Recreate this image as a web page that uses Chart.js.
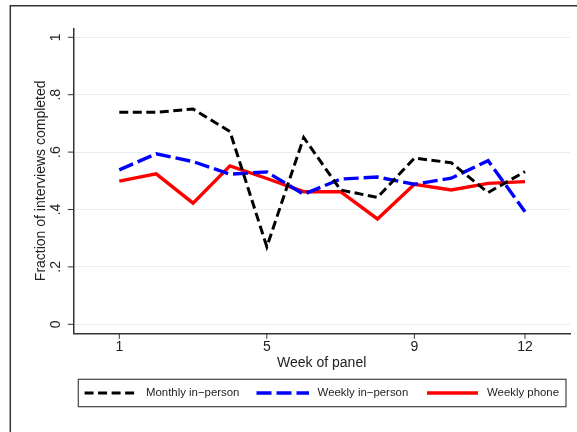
<!DOCTYPE html>
<html>
<head>
<meta charset="utf-8">
<script src="https://cdn.jsdelivr.net/npm/chart.js@4/dist/chart.umd.min.js"></script>
<style>
  html, body { margin: 0; padding: 0; background: #fff; }
  #wrap { width: 577px; height: 432px; position: relative; }
</style>
</head>
<body>
<div id="wrap"><canvas id="chart" width="577" height="432"></canvas></div>
<script>
// -------------------------
// Data
// -------------------------
const weeks = [1, 2, 3, 4, 5, 6, 7, 8, 9, 10, 11, 12];
const monthlyInPerson = [0.739, 0.739, 0.750, 0.672, 0.270, 0.651, 0.468, 0.442, 0.579, 0.563, 0.459, 0.532];
const weeklyInPerson = [0.538, 0.594, 0.567, 0.523, 0.531, 0.453, 0.506, 0.513, 0.488, 0.509, 0.570, 0.392];
const weeklyPhone = [0.499, 0.524, 0.422, 0.552, 0.508, 0.462, 0.462, 0.367, 0.488, 0.468, 0.491, 0.497];
const seriesLabels = ["Monthly in\u2212person", "Weekly in\u2212person", "Weekly phone"];
const xTicks = [1, 5, 9, 12];
const yTicks = [0, 0.2, 0.4, 0.6, 0.8, 1];
const yTickLabels = ["0", ".2", ".4", ".6", ".8", "1"];
const xTitle = "Week of panel";
const yTitle = "Fraction of interviews completed";

const FONT = '"Liberation Sans", Arial, Helvetica, sans-serif';
const INK = "#222";
const AXIS = "#333";

function toPoints(values) {
  return weeks.map((w, i) => ({ x: w, y: values[i] }));
}

// -------------------------
// Stata-like decorations (frame, ticks, titles, legend)
// -------------------------
const stataDecor = {
  id: "stataDecor",
  beforeDraw(chart) {
    const ctx = chart.ctx;
    ctx.save();
    ctx.fillStyle = "#fff";
    ctx.fillRect(0, 0, chart.width, chart.height);
    // outer frame (left + top only, rest is cropped)
    ctx.strokeStyle = AXIS;
    ctx.lineWidth = 1.5;
    ctx.beginPath();
    ctx.moveTo(10.3, chart.height);
    ctx.lineTo(10.3, 5.7);
    ctx.lineTo(chart.width, 5.7);
    ctx.stroke();
    ctx.restore();
  },
  afterDraw(chart) {
    const ctx = chart.ctx;
    const area = chart.chartArea;
    const xs = chart.scales.x;
    const ys = chart.scales.y;
    ctx.save();
    ctx.strokeStyle = AXIS;
    ctx.fillStyle = INK;
    ctx.lineWidth = 1;

    // y ticks + rotated labels
    ctx.font = "14px " + FONT;
    ctx.textAlign = "center";
    ctx.textBaseline = "middle";
    yTicks.forEach((v, i) => {
      const py = ys.getPixelForValue(v);
      ctx.beginPath();
      ctx.moveTo(area.left - 5.5, py);
      ctx.lineTo(area.left, py);
      ctx.stroke();
      ctx.save();
      ctx.translate(area.left - 17.5, py);
      ctx.rotate(-Math.PI / 2);
      ctx.fillText(yTickLabels[i], 0, 0);
      ctx.restore();
    });

    // x ticks + labels
    xTicks.forEach((v) => {
      const px = xs.getPixelForValue(v);
      ctx.beginPath();
      ctx.moveTo(px, area.bottom);
      ctx.lineTo(px, area.bottom + 5.5);
      ctx.stroke();
      ctx.fillText(String(v), px, area.bottom + 14);
    });

    // axis titles
    ctx.font = "14px " + FONT;
    ctx.fillText(xTitle, (area.left + area.right) / 2, area.bottom + 30);
    ctx.save();
    ctx.translate(41, (ys.getPixelForValue(0) + ys.getPixelForValue(1)) / 2);
    ctx.rotate(-Math.PI / 2);
    ctx.fillText(yTitle, 0, 0);
    ctx.restore();

    // legend box
    const box = { left: 78.3, top: 379.3, right: 566, bottom: 406.7 };
    ctx.lineWidth = 1.2;
    ctx.strokeStyle = "#444";
    ctx.strokeRect(box.left, box.top, box.right - box.left, box.bottom - box.top);
    const midY = (box.top + box.bottom) / 2;
    const samples = [[84.6, 138, 146], [256.5, 309, 317.6], [427, 478, 487]];
    ctx.font = "11.4px " + FONT;
    ctx.textAlign = "left";
    chart.data.datasets.forEach((ds, i) => {
      const [x0, x1, tx] = samples[i];
      ctx.save();
      ctx.strokeStyle = ds.borderColor;
      ctx.lineWidth = ds.borderWidth;
      ctx.setLineDash(ds.borderDash || []);
      ctx.beginPath();
      ctx.moveTo(x0, midY);
      ctx.lineTo(x1, midY);
      ctx.stroke();
      ctx.restore();
      ctx.fillStyle = INK;
      ctx.fillText(ds.label, tx, midY);
    });
    ctx.restore();
  }
};

new Chart(document.getElementById("chart"), {
  type: "line",
  data: {
    datasets: [
      {
        label: seriesLabels[0],
        data: toPoints(monthlyInPerson),
        borderColor: "#000",
        borderWidth: 3,
        borderDash: [9, 4.5],
        pointRadius: 0,
        fill: false,
        tension: 0
      },
      {
        label: seriesLabels[1],
        data: toPoints(weeklyInPerson),
        borderColor: "#0000ff",
        borderWidth: 3.4,
        borderDash: [15, 5],
        pointRadius: 0,
        fill: false,
        tension: 0
      },
      {
        label: seriesLabels[2],
        data: toPoints(weeklyPhone),
        borderColor: "#ff0000",
        borderWidth: 3.4,
        pointRadius: 0,
        fill: false,
        tension: 0
      }
    ]
  },
  options: {
    responsive: false,
    animation: false,
    devicePixelRatio: 1,
    layout: { padding: { left: 73.3, top: 28.5, right: 7, bottom: 98.7 } },
    plugins: {
      legend: { display: false },
      tooltip: { enabled: false }
    },
    scales: {
      x: {
        type: "linear",
        min: -0.247,
        max: 13.22,
        afterBuildTicks: (s) => { s.ticks = xTicks.map(v => ({ value: v })); },
        ticks: { display: false },
        grid: { display: false, drawTicks: false },
        border: { display: true, color: AXIS, width: 1.5 }
      },
      y: {
        type: "linear",
        min: -0.0314,
        max: 1.0307,
        afterBuildTicks: (s) => { s.ticks = yTicks.map(v => ({ value: v })); },
        ticks: { display: false },
        grid: { color: "#e6eff0", lineWidth: 1, drawTicks: false },
        border: { display: true, color: AXIS, width: 1.5 }
      }
    }
  },
  plugins: [stataDecor]
});
</script>
</body>
</html>
